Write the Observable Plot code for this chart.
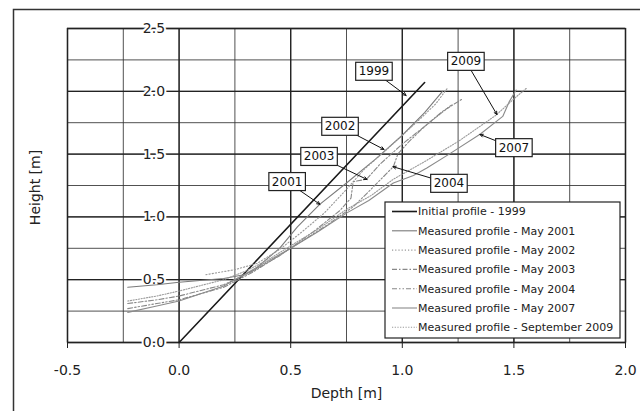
<!DOCTYPE html>
<html><head><meta charset="utf-8">
<script src="https://cdn.jsdelivr.net/npm/d3@7"></script>
<script src="https://cdn.jsdelivr.net/npm/@observablehq/plot@0.6"></script>
<style>
html,body{margin:0;padding:0;background:#fff;}
#chart{width:640px;height:411px;overflow:hidden;position:relative;}
</style></head><body><div id="chart"></div>
<script>
// ---- ticks ----
const xTicks = [-0.5, 0, 0.5, 1, 1.5, 2];
const xGrid = [-0.5, -0.25, 0, 0.25, 0.5, 0.75, 1, 1.25, 1.5, 1.75, 2];
const yTicks = [0, 0.5, 1, 1.5, 2, 2.5];
const yGrid = [0, 0.25, 0.5, 0.75, 1, 1.25, 1.5, 1.75, 2, 2.25, 2.5];

// ---- profiles: [depth, height] ----
const p1999 = [[0, 0], [1.1, 2.07]];
const p2001 = [[-0.23,0.44],[-0.1,0.46],[0,0.48],[0.2,0.51],[0.29,0.54],[0.34,0.58],[0.37,0.63],[0.45,0.75],[0.53,0.92],[0.63,1.10],[0.75,1.27],[0.88,1.46],[1.0,1.65],[1.1,1.83],[1.18,2.0]];
const p2002 = [[0.12,0.54],[0.25,0.58],[0.35,0.63],[0.45,0.74],[0.55,0.88],[0.65,1.03],[0.74,1.2],[0.83,1.38],[0.92,1.52],[1.0,1.65],[1.08,1.78],[1.15,1.9],[1.2,2.02]];
const p2003 = [[-0.23,0.31],[-0.1,0.34],[0,0.37],[0.2,0.46],[0.32,0.56],[0.45,0.69],[0.6,0.88],[0.72,1.05],[0.77,1.15],[0.78,1.28],[0.84,1.30],[0.9,1.42],[1.0,1.58],[1.1,1.72],[1.18,1.84],[1.27,1.94]];
const p2004 = [[-0.23,0.27],[-0.1,0.31],[0,0.34],[0.2,0.44],[0.33,0.56],[0.5,0.75],[0.65,0.92],[0.78,1.08],[0.86,1.22],[0.96,1.40],[0.98,1.5],[1.03,1.6],[1.1,1.72],[1.17,1.82],[1.22,1.89]];
const p2007 = [[-0.23,0.24],[-0.1,0.29],[0,0.33],[0.2,0.45],[0.3,0.55],[0.4,0.65],[0.5,0.75],[0.62,0.88],[0.75,1.03],[0.85,1.13],[0.96,1.27],[1.05,1.33],[1.11,1.39],[1.21,1.5],[1.35,1.66],[1.45,1.8],[1.48,1.92],[1.51,2.01]];
const p2009 = [[-0.23,0.33],[-0.1,0.37],[0,0.41],[0.2,0.5],[0.3,0.57],[0.4,0.66],[0.5,0.77],[0.62,0.9],[0.75,1.06],[0.86,1.17],[0.96,1.3],[1.1,1.44],[1.25,1.6],[1.42,1.81],[1.5,1.94],[1.56,2.03]];

const seriesNames = ["Initial profile - 1999","Measured profile - May 2001","Measured profile - May 2002","Measured profile - May 2003","Measured profile - May 2004","Measured profile - May 2007","Measured profile - September 2009"];
const seriesData = [p1999, p2001, p2002, p2003, p2004, p2007, p2009];
const seriesStyle = [
  {stroke:"#1a1a1a", width:1.6, dash:null},
  {stroke:"#7a7a7a", width:1.1, dash:null},
  {stroke:"#999", width:1.1, dash:"1.2,2"},
  {stroke:"#888", width:1.1, dash:"5,2,1.5,2"},
  {stroke:"#888", width:1.1, dash:"5,2,1.5,2,1.5,2"},
  {stroke:"#8a8a8a", width:1.1, dash:null},
  {stroke:"#999", width:1.1, dash:"1.2,1.5"}
];

// ---- callouts ----
const calloutYears = ["1999","2002","2003","2001","2004","2009","2007"];
const calloutX = [0.873, 0.721, 0.627, 0.484, 1.209, 1.285, 1.50];
const calloutY = [2.158, 1.72, 1.48, 1.28, 1.266, 2.237, 1.55];
const tipX = [1.017, 0.918, 0.842, 0.631, 0.958, 1.424, 1.348];
const tipY = [1.967, 1.537, 1.298, 1.10, 1.40, 1.815, 1.656];
const callouts = calloutYears.map((t,i)=>({t, x:calloutX[i], y:calloutY[i], tx:tipX[i], ty:tipY[i]}));

const font = "DejaVu Sans, Verdana, sans-serif";
const fmt = d => d.toFixed(1);

const lineMarks = seriesData.map((d,i)=>Plot.line(d, {
  x: d=>d[0], y: d=>d[1],
  stroke: seriesStyle[i].stroke, strokeWidth: seriesStyle[i].width,
  strokeDasharray: seriesStyle[i].dash || undefined, curve: "linear"
}));

const plot = Plot.plot({
  width: 640, height: 411,
  marginLeft: 67, marginRight: 15, marginTop: 28, marginBottom: 69,
  style: {fontFamily: font, background: "#fff", overflow: "visible"},
  x: {domain: [-0.5, 2.0]},
  y: {domain: [0, 2.5], axis: null},
  marks: [
    Plot.gridX(xGrid, {stroke: "#333", strokeOpacity: 0.85, strokeWidth: 1}),
    Plot.gridY(yGrid, {stroke: "#333", strokeOpacity: 0.85, strokeWidth: 1}),
    Plot.gridX(xTicks, {stroke: "#222", strokeOpacity: 1, strokeWidth: 1.3}),
    Plot.gridY(yTicks, {stroke: "#222", strokeOpacity: 1, strokeWidth: 1.3}),
    Plot.frame({stroke: "#222", strokeWidth: 1.3}),
    Plot.axisX(xTicks, {tickSize: 6, tickPadding: 17, fontSize: 14, label: null, tickFormat: fmt, stroke:"#222", fill:"#222"}),
    Plot.text(yTicks, {x: 0, y: d=>d, text: fmt, textAnchor: "end", dx: -14, fontSize: 14, fill: "#222", stroke: "white", strokeWidth: 4}),
    ...lineMarks,
    Plot.arrow(callouts, {x1: "x", y1: "y", x2: "tx", y2: "ty", stroke: "#111", strokeWidth: 1, headLength: 5, headAngle: 50}),
    Plot.text(callouts, {x: "x", y: "y", text: "t", fontSize: 12, fill: "#111"}),
    Plot.text(["Depth [m]"], {frameAnchor: "bottom", dy: 55, text: d=>d, fontSize: 14, fill: "#222"}),
    Plot.text(["Height [m]"], {frameAnchor: "left", textAnchor: "middle", dx: -32, dy: 2, rotate: -90, text: d=>d, fontSize: 14, fill: "#222"})
  ]
});

document.getElementById("chart").appendChild(plot);
const svg = d3.select(plot);

// outer frame
svg.append("rect").attr("x", 13.5).attr("y", 9.5).attr("width", 700).attr("height", 500)
  .attr("fill", "none").attr("stroke", "#333").attr("stroke-width", 1.5);

// callout boxes
const calloutTexts = Array.from(plot.querySelectorAll("text")).filter(t => calloutYears.includes(t.textContent.trim()));
calloutTexts.forEach(el => {
  const b = el.getBBox();
  const r = document.createElementNS("http://www.w3.org/2000/svg", "rect");
  r.setAttribute("x", b.x - 3); r.setAttribute("y", b.y - 2);
  r.setAttribute("width", b.width + 6); r.setAttribute("height", b.height + 4);
  r.setAttribute("fill", "white"); r.setAttribute("stroke", "#222"); r.setAttribute("stroke-width", 1.2);
  if (el.getAttribute("transform")) r.setAttribute("transform", el.getAttribute("transform"));
  el.parentNode.insertBefore(r, el);
});

// legend
const xs = plot.scale("x"), ys = plot.scale("y");
const right = xs.apply(2.0) - 5, bottom = ys.apply(0) - 4;
const lw = 235, lh = 136;
const lg = svg.append("g").attr("transform", `translate(${right - lw},${bottom - lh})`);
lg.append("rect").attr("width", lw).attr("height", lh).attr("fill", "white").attr("stroke", "#222").attr("stroke-width", 1.2);
seriesNames.forEach((name, i) => {
  const yy = 9.5 + i * 19.3;
  const st = seriesStyle[i];
  lg.append("line").attr("x1", 7).attr("x2", 32).attr("y1", yy).attr("y2", yy)
    .attr("stroke", st.stroke).attr("stroke-width", st.width).attr("stroke-dasharray", st.dash);
  lg.append("text").attr("x", 33).attr("y", yy).attr("dy", "0.35em").attr("text-anchor", "start")
    .attr("font-size", 11).attr("font-family", font).attr("fill", "#222").text(name);
});
</script></body></html>
